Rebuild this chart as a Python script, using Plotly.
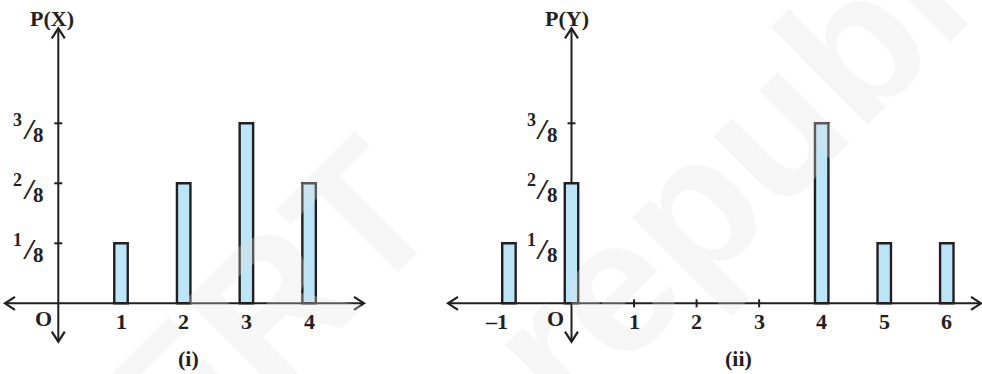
import plotly.graph_objects as go

# distribution (i)
x_vals_1 = [1, 2, 3, 4]
p_vals_1 = [1 / 8, 2 / 8, 3 / 8, 2 / 8]
# distribution (ii)
x_vals_2 = [-1, 0, 4, 5, 6]
p_vals_2 = [1 / 8, 2 / 8, 3 / 8, 1 / 8, 1 / 8]

y_ticks = [1 / 8, 2 / 8, 3 / 8]
y_tick_num = ["1", "2", "3"]
y_tick_den = "8"
x_ticks_2 = [1, 2, 3]
x_labels_1 = ["1", "2", "3", "4"]
x_label_pos_2 = [-1.2, 1, 2, 3, 4, 5, 6]
x_labels_2 = ["–1", "1", "2", "3", "4", "5", "6"]

INK = "#231f20"
BAR = "#bde5f8"
SERIF = "Liberation Serif"

W, H = 982, 374
# pixels per data unit and origin pixels
SX1, SX2, SY = 62.7, 62.55, 480.0
OX1, OX2, OY = 58.3, 571.5, 303.3
Y_RANGE = [-(H - OY) / SY, OY / SY]
X_RANGE_1 = [-OX1 / SX1, (0.4 * W - OX1) / SX1]
X_RANGE_2 = [(0.43 * W - OX2) / SX2, (W - OX2) / SX2]

fig = go.Figure()
fig.add_trace(go.Bar(x=x_vals_1, y=p_vals_1, width=0.215, xaxis="x", yaxis="y",
                     marker=dict(color=BAR, line=dict(color=INK, width=2.4))))
fig.add_trace(go.Bar(x=x_vals_2, y=p_vals_2, width=0.215, xaxis="x2", yaxis="y2",
                     marker=dict(color=BAR, line=dict(color=INK, width=2.4))))

shapes = []
annotations = []


def line(xr, yr, x0, y0, x1, y1):
    shapes.append(dict(type="line", xref=xr, yref=yr, x0=x0, y0=y0, x1=x1, y1=y1,
                       layer="below", line=dict(color=INK, width=2)))


def chevron(xr, yr, sx, tip_x, tip_y, dx, dy):
    # open arrowhead; dx/dy gives the direction it points to
    back, side = 10, 6.5
    if dx:
        bx = tip_x - dx * back / sx
        path = f"M{bx},{tip_y + side / SY} L{tip_x},{tip_y} L{bx},{tip_y - side / SY}"
    else:
        by = tip_y - dy * back / SY
        path = f"M{tip_x - side / sx},{by} L{tip_x},{tip_y} L{tip_x + side / sx},{by}"
    shapes.append(dict(type="path", xref=xr, yref=yr, path=path, layer="below",
                       line=dict(color=INK, width=2.2)))


def axes(xr, yr, sx, left_px, right_px):
    xl, xh = left_px / sx, right_px / sx
    yt, yb = (OY - 28.3) / SY, -(341.7 - OY) / SY
    line(xr, yr, xl, 0, xh, 0)
    line(xr, yr, 0, yb, 0, yt)
    chevron(xr, yr, sx, xl, 0, -1, 0)
    chevron(xr, yr, sx, xh, 0, 1, 0)
    chevron(xr, yr, sx, 0, yt, 0, 1)
    chevron(xr, yr, sx, 0, yb, 0, -1)
    for t in y_ticks:
        line(xr, yr, -4 / sx, t, 4 / sx, t)


axes("x", "y", SX1, 5 - OX1, 364 - OX1)
axes("x2", "y2", SX2, 448 - OX2, 981 - OX2)
for t in x_ticks_2:
    line("x2", "y2", t, -4 / SY, t, 4 / SY)


def txt(xr, yr, x, y, text, size=22, weight="bold"):
    annotations.append(dict(xref=xr, yref=yr, x=x, y=y, text=text, showarrow=False,
                            xanchor="center", yanchor="middle",
                            font=dict(family=SERIF, size=size, color=INK, weight=weight)))


# fraction tick labels drawn as numerator, slash and denominator
for xr, yr, sx in (("x", "y", SX1), ("x2", "y2", SX2)):
    for t, n in zip(y_ticks, y_tick_num):
        txt(xr, yr, -40.5 / sx, t + 3 / SY, n, size=18)
        txt(xr, yr, -29 / sx, t - 5 / SY, "<i>/</i>", size=30)
        txt(xr, yr, -19.5 / sx, t - 12 / SY, y_tick_den, size=21)

for x, lab in zip(x_vals_1, x_labels_1):
    txt("x", "y", x, -18 / SY, lab)
for x, lab in zip(x_label_pos_2, x_labels_2):
    txt("x2", "y2", x, -18 / SY, lab)

txt("x", "y", -15 / SX1, -15 / SY, "O")
txt("x2", "y2", -16 / SX2, -15 / SY, "O")
txt("x", "y", -6 / SX1, (OY - 18) / SY, "P(X)")
txt("x2", "y2", -5 / SX2, (OY - 18) / SY, "P(Y)")
txt("paper", "paper", 188 / W, 1 - 358 / H, "(i)")
txt("paper", "paper", 738 / W, 1 - 358 / H, "(ii)")

# faint watermark laid over the drawing
wm_font = dict(family="Liberation Sans", size=190, color="rgba(225,225,225,0.3)", weight="bold")
for cx, cy, word in ((102, 475, "© NCERT"), (901, -2, "republished")):
    annotations.insert(0, dict(xref="paper", yref="paper", x=cx / W, y=1 - cy / H, text=word,
                               textangle=-45, showarrow=False, font=wm_font,
                               xanchor="center", yanchor="middle"))

axis_style = dict(visible=False, fixedrange=True)
fig.update_layout(
    width=W, height=H,
    margin=dict(l=0, r=0, t=0, b=0),
    paper_bgcolor="white", plot_bgcolor="rgba(0,0,0,0)",
    showlegend=False,
    xaxis=dict(domain=[0, 0.4], range=X_RANGE_1, anchor="y", **axis_style),
    yaxis=dict(domain=[0, 1], range=Y_RANGE, anchor="x", **axis_style),
    xaxis2=dict(domain=[0.43, 1], range=X_RANGE_2, anchor="y2", **axis_style),
    yaxis2=dict(domain=[0, 1], range=Y_RANGE, anchor="x2", **axis_style),
    shapes=shapes,
    annotations=annotations,
)

fig.write_html("out.html", config={"displayModeBar": False},
               post_script="document.body.style.margin = '0';")
